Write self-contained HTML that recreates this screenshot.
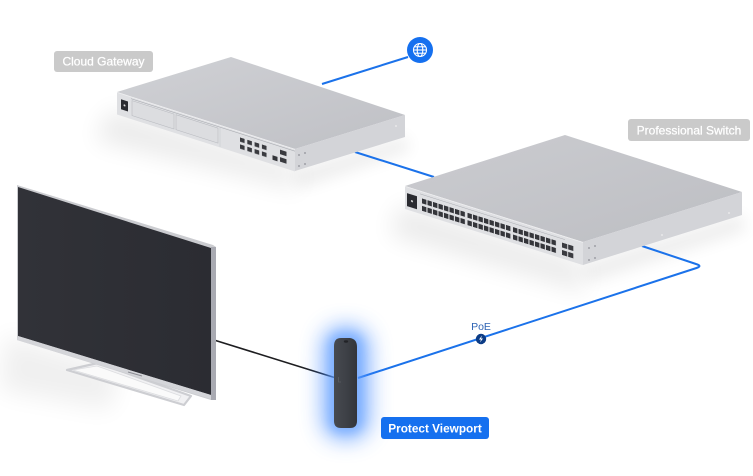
<!DOCTYPE html>
<html><head><meta charset="utf-8">
<style>
html,body{margin:0;padding:0;background:#fff;}
svg{display:block;}
text{font-family:"Liberation Sans",sans-serif;}
</style></head>
<body>
<svg width="753" height="476" viewBox="0 0 753 476" xmlns="http://www.w3.org/2000/svg">
<defs>
  <filter id="b8" x="-50%" y="-50%" width="200%" height="200%"><feGaussianBlur stdDeviation="8"/></filter>
  <filter id="b12" x="-50%" y="-50%" width="200%" height="200%"><feGaussianBlur stdDeviation="12"/></filter>
  <filter id="glow" x="-150%" y="-60%" width="400%" height="220%"><feGaussianBlur stdDeviation="11"/></filter>
  <filter id="glow2" x="-150%" y="-60%" width="400%" height="220%"><feGaussianBlur stdDeviation="5"/></filter>
  <linearGradient id="gwTop" x1="0" y1="0" x2="1" y2="1">
    <stop offset="0" stop-color="#d0d1d5"/><stop offset="1" stop-color="#bfc0c5"/>
  </linearGradient>
  <linearGradient id="swTop" x1="0" y1="0" x2="1" y2="1">
    <stop offset="0" stop-color="#cbccd0"/><stop offset="1" stop-color="#bdbec3"/>
  </linearGradient>
  <linearGradient id="tvScreen" x1="0" y1="0" x2="1" y2="0">
    <stop offset="0" stop-color="#313238"/><stop offset="1" stop-color="#2b2c32"/>
  </linearGradient>
  <linearGradient id="vpBody" x1="0" y1="0" x2="1" y2="0">
    <stop offset="0" stop-color="#474a50"/><stop offset="0.5" stop-color="#3e4147"/><stop offset="1" stop-color="#33353a"/>
  </linearGradient>
  <pattern id="gwP" x="123" y="6" width="7.3" height="7" patternUnits="userSpaceOnUse"><rect width="4.6" height="4.3" fill="#3a3b40"/></pattern>
  <pattern id="sp1" x="17" y="7" width="5.5" height="7.5" patternUnits="userSpaceOnUse"><rect width="4.4" height="5" fill="#34353a"/></pattern>
  <pattern id="sp2" x="62.5" y="7" width="5.5" height="7.5" patternUnits="userSpaceOnUse"><rect width="4.4" height="5" fill="#34353a"/></pattern>
  <pattern id="sp3" x="108" y="7" width="5.5" height="7.5" patternUnits="userSpaceOnUse"><rect width="4.4" height="5" fill="#34353a"/></pattern>
  <pattern id="sfp" x="157" y="7" width="6.2" height="7.5" patternUnits="userSpaceOnUse"><rect width="5.2" height="5" fill="#3a3b40"/></pattern>
</defs>

<rect width="753" height="476" fill="#fff"/>

<!-- ground shadows -->
<polygon points="110,110 295,166 300,190 95,140" fill="#000" opacity="0.08" filter="url(#b12)"/>
<polygon points="295,170 405,136 410,150 300,188" fill="#000" opacity="0.07" filter="url(#b8)"/>
<polygon points="400,205 583,262 585,292 390,235" fill="#000" opacity="0.08" filter="url(#b12)"/>
<polygon points="583,264 742,214 746,230 590,282" fill="#000" opacity="0.07" filter="url(#b8)"/>
<polygon points="5,335 120,370 110,410 0,390" fill="#000" opacity="0.06" filter="url(#b12)"/>

<!-- connectors -->
<line x1="322" y1="84" x2="408" y2="57" stroke="#1b72ea" stroke-width="2"/>
<line x1="355" y1="152" x2="434" y2="177" stroke="#1b72ea" stroke-width="2"/>
<path d="M642,246 L696,264 Q702.6,266 696.5,268 L358,378" fill="none" stroke="#1b72ea" stroke-width="2"/>
<line x1="214" y1="340" x2="336" y2="378" stroke="#1d1d20" stroke-width="1.6"/>

<!-- globe -->
<circle cx="420" cy="50" r="13" fill="#1570ef"/>
<g fill="none" stroke="#fff" stroke-width="1.1">
  <circle cx="420" cy="50" r="6.5"/>
  <ellipse cx="420" cy="50" rx="2.8" ry="6.5"/>
  <line x1="413.5" y1="50" x2="426.5" y2="50"/>
  <line x1="414.5" y1="46.8" x2="425.5" y2="46.8"/>
  <line x1="414.5" y1="53.2" x2="425.5" y2="53.2"/>
</g>

<!-- Cloud Gateway device -->
<polygon points="117,92 231,57 405,115 295,149" fill="url(#gwTop)"/>
<polygon points="295,149 405,115 405,137 295,171" fill="#d3d4d8"/>
<g transform="matrix(1,0.32,0,1,117,92)">
  <rect x="0" y="0" width="178" height="22.5" fill="#dfe0e3"/>
  <line x1="0" y1="0.4" x2="178" y2="0.4" stroke="#eeeef0" stroke-width="0.8"/>
  <line x1="14" y1="2.2" x2="178" y2="2.2" stroke="#a9abb1" stroke-width="0.6"/>
  <rect x="4" y="6" width="7" height="10" fill="#2a2b30"/>
  <circle cx="7.5" cy="11" r="1" fill="#ddd"/>
  <rect x="15" y="3.8" width="42" height="15" fill="#dcdde0" stroke="#b9bbc0" stroke-width="0.6"/>
  <rect x="59" y="3.8" width="42" height="15" fill="#dcdde0" stroke="#b9bbc0" stroke-width="0.6"/>
  <line x1="103" y1="3" x2="103" y2="22" stroke="#c6c8cc" stroke-width="0.5"/>
  <rect x="123" y="6" width="29" height="12" fill="url(#gwP)"/>
  <rect x="155.5" y="13.5" width="5" height="4.5" fill="#34353a"/>
  <rect x="163" y="5.5" width="6.5" height="4.5" fill="#3a3b40"/>
  <rect x="163" y="13" width="6.5" height="4.5" fill="#3a3b40"/>
</g>
<g fill="#8e9096">
  <circle cx="299" cy="155" r="0.9"/><circle cx="305" cy="153" r="0.9"/>
  <circle cx="299" cy="166" r="0.9"/><circle cx="305" cy="164" r="0.9"/>
  <circle cx="396" cy="126" r="0.9" fill="#eee"/>
</g>

<!-- Professional Switch device -->
<polygon points="405,186 565,135 742,192 583,242" fill="url(#swTop)"/>
<polygon points="583,242 742,192 742,215 583,265" fill="#d3d4d8"/>
<g transform="matrix(1,0.315,0,1,405,186)">
  <rect x="0" y="0" width="178" height="23" fill="#dfe0e3"/>
  <line x1="0" y1="0.4" x2="178" y2="0.4" stroke="#eeeef0" stroke-width="0.8"/>
  <line x1="15" y1="3.2" x2="160" y2="3.2" stroke="#a9abb1" stroke-width="0.5"/>
  <rect x="2" y="6.5" width="10" height="13" fill="#2a2b30"/>
  <circle cx="7" cy="13" r="1.1" fill="#ccc"/>
  <rect x="17" y="7" width="44" height="12.5" fill="url(#sp1)"/>
  <rect x="62.5" y="7" width="44" height="12.5" fill="url(#sp2)"/>
  <rect x="108" y="7" width="44" height="12.5" fill="url(#sp3)"/>
  <rect x="157" y="7" width="11.4" height="12.5" fill="url(#sfp)"/>
</g>
<g fill="#8e9096">
  <circle cx="589" cy="248" r="0.9"/><circle cx="595" cy="246" r="0.9"/>
  <circle cx="589" cy="260" r="0.9"/><circle cx="595" cy="258" r="0.9"/>
  <circle cx="662" cy="235" r="0.9" fill="#eee"/>
  <circle cx="729" cy="213" r="0.9" fill="#eee"/>
</g>

<!-- TV stand -->
<polygon points="67,370 98,363 191,396 184,405" fill="#f1f1f3" stroke="#cdced2" stroke-width="2.2" stroke-linejoin="round"/>
<polygon points="73,370 97,366 181,396 178,401" fill="#fafafa" stroke="#dcdde0" stroke-width="0.8"/>

<!-- TV -->
<polygon points="17,185 213,245 216,247 216,400 211,400 17,340" fill="#cbccd0"/>
<polygon points="211,247 216,247 216,400 211,400" fill="#a9aab2"/>
<polygon points="18,187 211,248 211,395 18,336" fill="url(#tvScreen)"/>
<polygon points="18,336 211,395 211,399 17,340" fill="#d4d5d9"/>
<line x1="128" y1="372" x2="142" y2="376" stroke="#8a8b92" stroke-width="1"/>

<!-- Viewport glow -->
<rect x="322" y="326" width="48" height="114" rx="20" fill="#3d86ff" opacity="0.6" filter="url(#glow)"/>
<rect x="329" y="333" width="34" height="100" rx="12" fill="#6aa6ff" opacity="0.55" filter="url(#glow2)"/>

<!-- Viewport body -->
<path d="M334,346 Q334,338 341,338 L350,338 Q357,339 357,347 L357,421 Q357,428 350,428 L341,428 Q334,428 334,421 Z" fill="url(#vpBody)"/>
<ellipse cx="346" cy="341.5" rx="2.2" ry="1.2" fill="#222327"/>
<path d="M338.5,377 L338.5,382 L341,382" fill="none" stroke="#5b5e64" stroke-width="0.8"/>

<!-- PoE marker -->
<text x="481" y="330" font-size="10.5" fill="#2f64b4" text-anchor="middle">PoE</text>
<circle cx="481" cy="339" r="5.2" fill="#0c3c86"/>
<polygon points="482,335.5 479,339.5 481,339.5 480,342.5 483,338.5 481,338.5" fill="#fff"/>

<!-- Labels -->
<rect x="54" y="51" width="99" height="21" rx="3" fill="#cacaca"/>
<text x="103.5" y="65.5" font-size="12" fill="#fff" text-anchor="middle" stroke="#fff" stroke-width="0.25">Cloud Gateway</text>

<rect x="628" y="119" width="122" height="22" rx="3" fill="#cacaca"/>
<text x="689" y="134.3" font-size="12" fill="#fff" text-anchor="middle" stroke="#fff" stroke-width="0.25">Professional Switch</text>

<rect x="381" y="417" width="108" height="22" rx="3" fill="#1570ef"/>
<text x="435" y="432.3" font-size="11.8" font-weight="bold" fill="#fff" text-anchor="middle">Protect Viewport</text>
</svg>
</body></html>
